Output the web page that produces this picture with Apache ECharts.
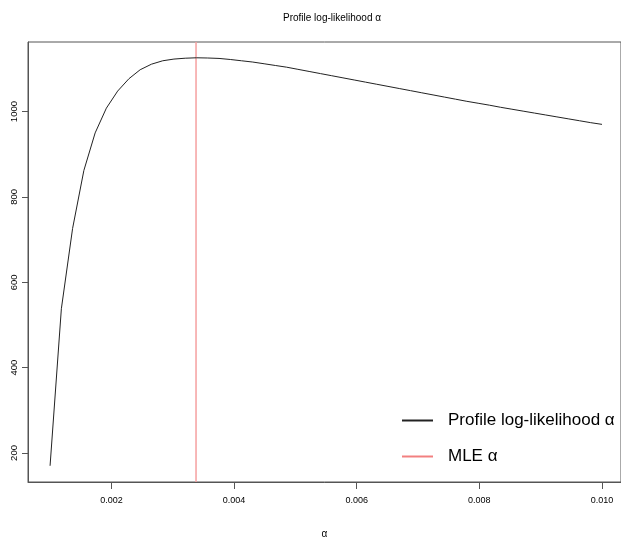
<!DOCTYPE html>
<html>
<head>
<meta charset="utf-8">
<script src="https://cdn.jsdelivr.net/npm/echarts@6/dist/echarts.min.js"></script>
<style>html,body{margin:0;padding:0;background:#fff;}#c{width:621px;height:544px;}</style>
</head>
<body>
<div id="c"></div>
<script>
const alphaGrid = [0.001000,0.001184,0.001367,0.001551,0.001735,0.001918,0.002102,0.002286,0.002469,0.002653,
  0.002837,0.003020,0.003204,0.003388,0.003571,0.003755,0.003939,0.004122,0.004306,0.004490,
  0.004673,0.004857,0.005041,0.005224,0.005408,0.005592,0.005776,0.005959,0.006143,0.006327,
  0.006510,0.006694,0.006878,0.007061,0.007245,0.007429,0.007612,0.007796,0.007980,0.008163,
  0.008347,0.008531,0.008714,0.008898,0.009082,0.009265,0.009449,0.009633,0.009816,0.010000];
const logLik = [170,538,726,862,950,1008,1048,1077,1098,1111,
  1119,1123,1125,1126,1125.5,1124.5,1122,1119,1116,1112,
  1108,1104,1099,1094,1089,1084,1079,1074,1069,1064,
  1059,1054,1049,1044,1039,1034,1029,1024,1019.5,1015,
  1010,1005.5,1001,996.5,992,987.5,983,978.5,974,970];
const mleAlpha = [0.00338];
const xRange = [0.00064, 0.01031];
const yRange = [132, 1163];
const xTicks = [0.002,0.004,0.006,0.008,0.010];
const yTicks = [200,400,600,800,1000];
const titleText = 'Profile log-likelihood \u03b1';
const seriesNames = ['Profile log-likelihood \u03b1','MLE \u03b1'];

const FONT = '"Liberation Sans",Arial,sans-serif';
const chart = echarts.init(document.getElementById('c'), null, {renderer:'canvas'});
chart.setOption({
  animation:false,
  backgroundColor:'#fff',
  title:{text:titleText,left:327,textAlign:'center',top:8,
    textStyle:{fontFamily:FONT,fontSize:10,fontWeight:'normal',color:'#000'}},
  legend:{orient:'vertical',left:397,top:407,itemWidth:31,itemHeight:2,itemGap:19,icon:'rect',
    textStyle:{fontFamily:FONT,fontSize:17,color:'#000',padding:[0,0,0,10]},
    data:seriesNames},
  grid:{left:28,right:0,top:42,bottom:58,show:true,borderColor:'#555',borderWidth:1,containLabel:false},
  xAxis:{type:'value',min:xRange[0],max:xRange[1],
    name:'\u03b1',nameLocation:'middle',nameGap:47,
    nameTextStyle:{fontFamily:FONT,fontSize:10,color:'#000'},
    axisLine:{show:true,lineStyle:{color:'#555'}},
    axisTick:{show:true,length:7,lineStyle:{color:'#555'},customValues:xTicks},
    axisLabel:{show:true,margin:14,fontFamily:FONT,fontSize:9,color:'#000',customValues:xTicks,
      formatter:v=>v.toFixed(3)},
    splitLine:{show:false}},
  yAxis:{type:'value',min:yRange[0],max:yRange[1],
    axisLine:{show:true,lineStyle:{color:'#555'}},
    axisTick:{show:true,length:6,lineStyle:{color:'#555'},customValues:yTicks},
    axisLabel:{show:true,rotate:90,margin:9,fontFamily:FONT,fontSize:9.5,color:'#000',customValues:yTicks,
      formatter:v=>String(Math.round(v))},
    splitLine:{show:false}},
  series:[
    {name:seriesNames[1],type:'line',symbol:'none',showSymbol:false,z:1,
      data:[[mleAlpha[0],yRange[0]],[mleAlpha[0],yRange[1]]],
      itemStyle:{color:'#f28080'},lineStyle:{color:'#f5a0a0',width:1.5}},
    {name:seriesNames[0],type:'line',showSymbol:false,symbol:'none',z:2,
      data:alphaGrid.map((a,i)=>[a,logLik[i]]),
      lineStyle:{color:'#222',width:1},itemStyle:{color:'#222'}}
  ]
});
</script>
</body>
</html>
